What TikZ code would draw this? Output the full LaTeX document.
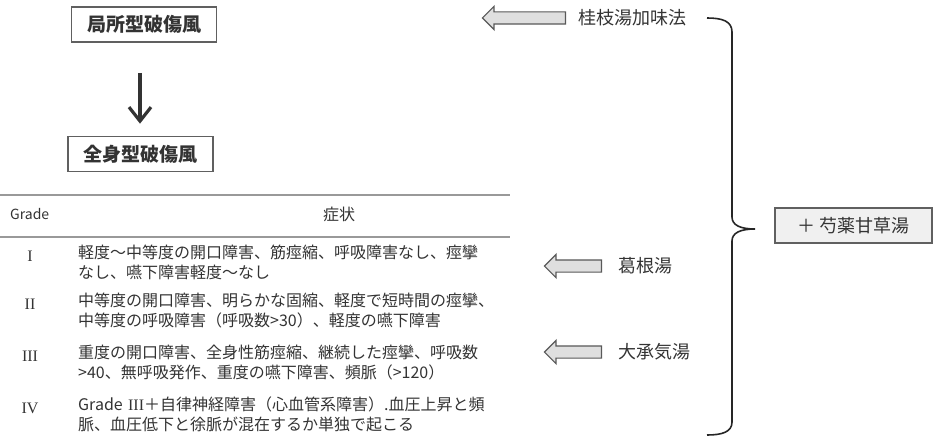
\documentclass[tikz,border=0pt]{standalone}
\usepackage{fontspec}
\newfontfamily\jp{Noto Sans CJK JP}
\newfontfamily\romfont{Liberation Serif}
\usetikzlibrary{arrows.meta,positioning,shapes.arrows}
\definecolor{ink}{HTML}{333333}
\tikzset{
	casebox/.style={draw=gray!75!black, line width=1.6pt, align=center, minimum height=35pt, minimum width=145pt, fill=white, text=ink, font=\jp\bfseries\fontsize{19}{19}\selectfont},
	drugbox/.style={casebox, fill=gray!12, minimum width=157pt, font=\jp\fontsize{18}{18}\selectfont},
	drugname/.style={anchor=west, inner sep=0pt, text=ink, font=\jp\fontsize{18}{18}\selectfont},
	hollow/.style={single arrow, shape border rotate=180, draw=gray!70!black, fill=gray!25, line width=1.2pt, inner xsep=0pt, inner ysep=5.5pt, single arrow head extend=5.5pt, single arrow head indent=0pt},
	flow/.style={-{Straight Barb[length=14pt, width=22pt]}, line width=3.2pt, ink},
	rule/.style={gray!80, line width=1.8pt},
	gradecell/.style={inner sep=0pt, text=ink, font=\romfont\fontsize{16}{16}\selectfont},
	symcell/.style={anchor=north west, align=left, inner sep=0pt, text width=430pt, text=ink, font=\jp\fontsize{16}{19.5}\selectfont},
	brace/.style={draw=gray!30!black, line width=1.6pt}
}

\begin{document}
\begin{tikzpicture}[x=1pt, y=-1pt]
	\useasboundingbox (0,0) rectangle (944,444);
	% disease stages
	\node[casebox] (local) at (144,24.5) {局所型破傷風};
	\node[casebox] (general) at (140.5,154) {全身型破傷風};
	\draw[flow, shorten <=30pt, shorten >=12pt] (local.south -| 140,0) -- (general.north -| 140,0);
	% grading table
	\coordinate (tl) at (0,195);
	\coordinate (tr) at (510,195);
	\coordinate (ml) at (0,237);
	\coordinate (mr) at (510,237);
	\draw[rule] (tl) -- (tr);
	\draw[rule] (ml) -- (mr);
	\node[anchor=west, inner sep=0pt, text=ink, font=\jp\fontsize{14}{14}\selectfont] (gradehead) at (10,214) {Grade};
	\node[inner sep=0pt, text=ink, font=\jp\fontsize{16}{16}\selectfont] (symhead) at (339,214) {症状};
	\node[gradecell] (g1) at (30,256) {I};
	\node[gradecell] (g2) at (30,304) {II};
	\node[gradecell] (g3) at (30,356) {III};
	\node[gradecell] (g4) at (30,408) {IV};
	\node[symcell] (s1) at (78,245) {軽度～中等度の開口障害、筋痙縮、呼吸障害なし、痙攣\\なし、嚥下障害軽度～なし};
	\node[symcell] (s2) at (78,293) {中等度の開口障害、明らかな固縮、軽度で短時間の痙攣、\\中等度の呼吸障害（呼吸数>30）、軽度の嚥下障害};
	\node[symcell] (s3) at (78,345) {重度の開口障害、全身性筋痙縮、継続した痙攣、呼吸数\\>40、無呼吸発作、重度の嚥下障害、頻脈（>120）};
	\node[symcell] (s4) at (78,397) {Grade \romfont III\jp ＋自律神経障害（心血管系障害）.血圧上昇と頻\\脈、血圧低下と徐脈が混在するか単独で起こる};
	% treatments
	\node[drugname] (keishi) at (578,18) {桂枝湯加味法};
	\node[drugname] (kakkon) at (618,266) {葛根湯};
	\node[drugname] (daijo) at (618,352) {大承気湯};
	\node[hollow, minimum height=83pt, left=12pt of keishi] (ar1) {};
	\node[hollow, minimum height=57pt, left=16pt of kakkon] (ar2) {};
	\node[hollow, minimum height=57pt, left=16pt of daijo] (ar3) {};
	\node[drugbox] (shakuyaku) at (853.5,225.5) {＋ 芍薬甘草湯};
	\coordinate (btop) at (707,18);
	\coordinate (btip) at (755,229);
	\coordinate (bbot) at (707,435);
	\draw[brace] (btop) .. controls (722,18) and (732,21) .. (732,32) -- (732,217)
		.. controls (732,225) and (740,229) .. (btip)
		.. controls (740,229) and (732,233) .. (732,241) -- (732,422)
		.. controls (732,432) and (722,435) .. (bbot);
\end{tikzpicture}
\end{document}
